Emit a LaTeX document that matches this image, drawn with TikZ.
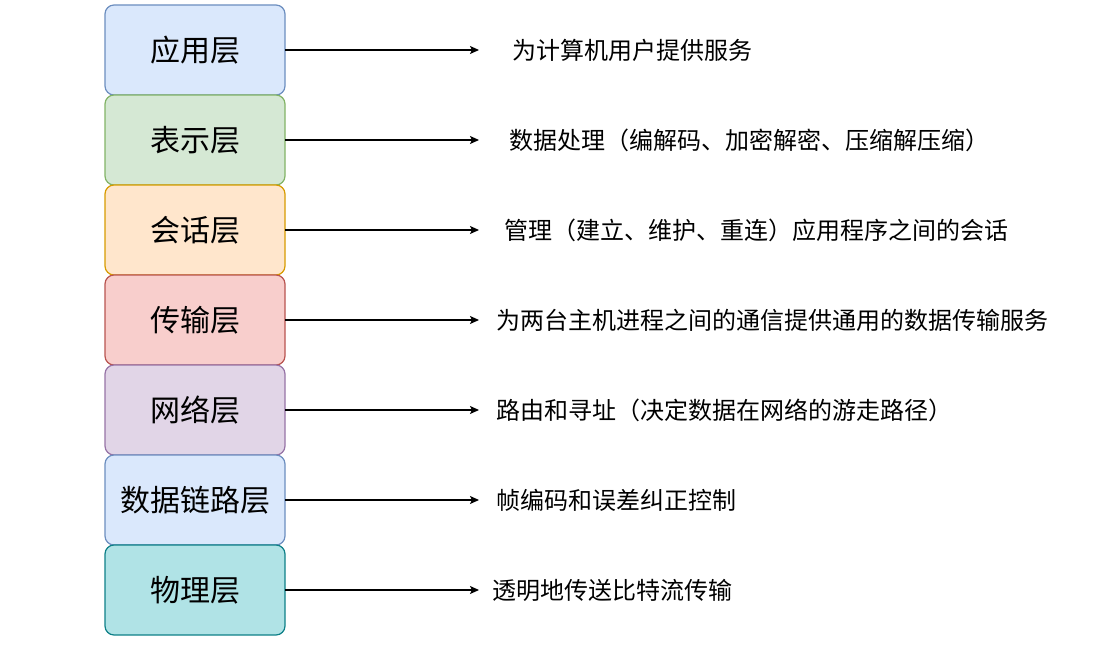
\documentclass[tikz,border=0pt]{standalone}
\usepackage{fontspec}
\setmainfont{Noto Sans CJK SC}
\usetikzlibrary{positioning,arrows.meta}
\definecolor{bluefill}{HTML}{DAE8FC}\definecolor{bluedraw}{HTML}{6C8EBF}
\definecolor{greenfill}{HTML}{D5E8D4}\definecolor{greendraw}{HTML}{82B366}
\definecolor{orangefill}{HTML}{FFE6CC}\definecolor{orangedraw}{HTML}{D79B00}
\definecolor{redfill}{HTML}{F8CECC}\definecolor{reddraw}{HTML}{B85450}
\definecolor{purplefill}{HTML}{E1D5E7}\definecolor{purpledraw}{HTML}{9673A6}
\definecolor{tealfill}{HTML}{B0E3E6}\definecolor{tealdraw}{HTML}{0E8088}
\tikzset{
  layer/.style={draw, line width=1.2pt, rounded corners=9pt, minimum width=180pt,
    minimum height=90pt, inner sep=0pt, outer sep=0pt, font=\fontsize{30}{34}\selectfont},
  desc/.style={anchor=west, inner sep=0pt, font=\fontsize{24}{28}\selectfont},
  link/.style={line width=1.3pt, -{Stealth[length=9pt,width=8pt,inset=2pt]}}
}
\begin{document}
\begin{tikzpicture}[x=1pt,y=-1pt]
\useasboundingbox (0,0) rectangle (1104,652);
\node [layer, fill=bluefill, draw=bluedraw] (app) at (195,50) {应用层};
\node [layer, fill=greenfill, draw=greendraw, below=0pt of app] (pres) {表示层};
\node [layer, fill=orangefill, draw=orangedraw, below=0pt of pres] (sess) {会话层};
\node [layer, fill=redfill, draw=reddraw, below=0pt of sess] (trans) {传输层};
\node [layer, fill=purplefill, draw=purpledraw, below=0pt of trans] (net) {网络层};
\node [layer, fill=bluefill, draw=bluedraw, below=0pt of net] (link) {数据链路层};
\node [layer, fill=tealfill, draw=tealdraw, below=0pt of link] (phys) {物理层};
% descriptions
\node [desc] (appd) at (512,50) {为计算机用户提供服务};
\node [desc] (presd) at (509,140) {数据处理（编解码、加密解密、压缩解压缩）};
\node [desc] (sessd) at (504,230) {管理（建立、维护、重连）应用程序之间的会话};
\node [desc] (transd) at (496,320) {为两台主机进程之间的通信提供通用的数据传输服务};
\node [desc] (netd) at (496,410) {路由和寻址（决定数据在网络的游走路径）};
\node [desc] (linkd) at (496,500) {帧编码和误差纠正控制};
\node [desc] (physd) at (492,590) {透明地传送比特流传输};
% arrows
\coordinate (appt) at (479,50);
\coordinate (prest) at (479,140);
\coordinate (sesst) at (479,230);
\coordinate (transt) at (479,320);
\coordinate (nett) at (479,410);
\coordinate (linkt) at (479,500);
\coordinate (physt) at (479,590);
\draw [link] (app.east) -- (appt);
\draw [link] (pres.east) -- (prest);
\draw [link] (sess.east) -- (sesst);
\draw [link] (trans.east) -- (transt);
\draw [link] (net.east) -- (nett);
\draw [link] (link.east) -- (linkt);
\draw [link] (phys.east) -- (physt);
\end{tikzpicture}
\end{document}
